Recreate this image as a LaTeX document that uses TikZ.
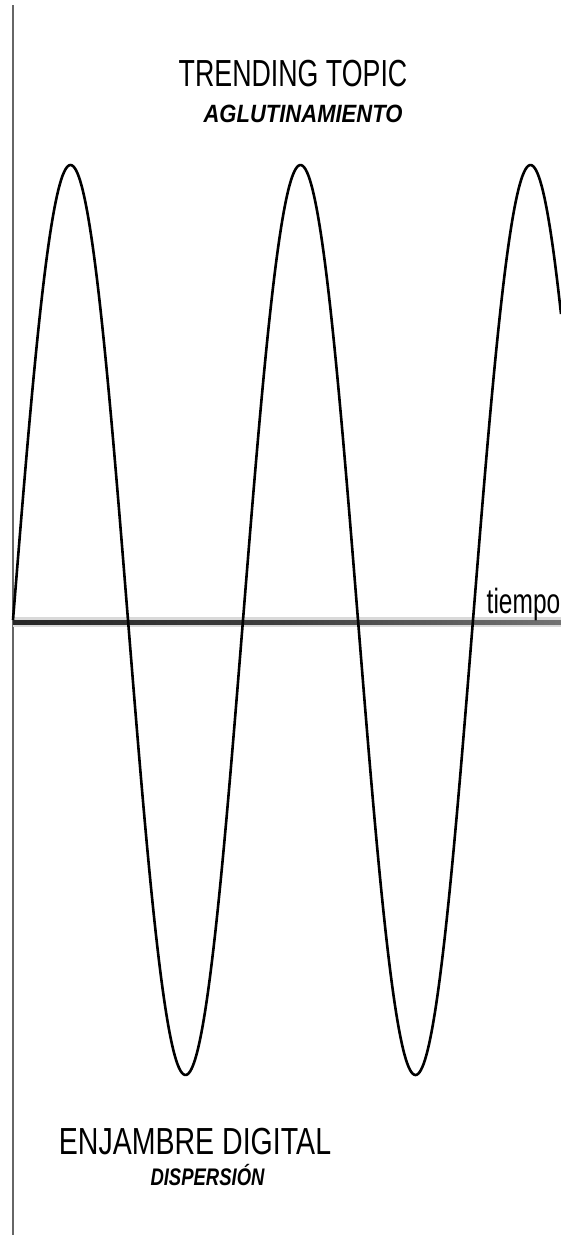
\documentclass[tikz,border=0pt]{standalone}
\usepackage{fontspec}
\setmainfont{Liberation Sans}
\usepackage{graphicx}
\begin{document}
\begin{tikzpicture}[x=1pt,y=-1pt,
  lbl/.style={inner sep=0pt, text=black},
  wave/.style={line width=2.6pt, black, line join=round},
  vaxis/.style={line width=2pt, black!60}]
\useasboundingbox[fill=white] (0,0) rectangle (561,1235);
% vertical axis
\coordinate (vtop) at (13,5);
\coordinate (vbot) at (13,1235);
\draw[vaxis] (vtop) -- (vbot);
% horizontal time axis (blurred band)
\coordinate (hl) at (13,622);
\coordinate (hr) at (561,622);
\draw[line width=10pt, black!15] (hl) -- (hr);
\shade[left color=black!85, right color=black!55, middle color=black!75] (13,620) rectangle (561,624.5);
% sine wave
\draw[wave] plot[domain=13:561, samples=400] (\x, {620-455*sin((\x-13)*1.5652174)});
% labels
\node[lbl] (tt) at (293,73.5) {\fontsize{37.7}{40}\selectfont\scalebox{0.71}[1]{TRENDING TOPIC}};
\node[lbl] (ag) at (303,114) {\fontsize{25}{28}\selectfont\bfseries\itshape\scalebox{0.88}[1]{AGLUTINAMIENTO}};
\node[lbl] (ed) at (195,1141.5) {\fontsize{37.7}{40}\selectfont\scalebox{0.757}[1]{ENJAMBRE DIGITAL}};
\node[lbl, anchor=base] (ds) at (207.5,1185) {\fontsize{24}{27}\selectfont\bfseries\itshape\scalebox{0.77}[1]{DISPERSIÓN}};
\node[lbl, anchor=base] (tp) at (523.5,613) {\fontsize{35}{38}\selectfont\scalebox{0.7}[1]{tiempo}};
\end{tikzpicture}
\end{document}
